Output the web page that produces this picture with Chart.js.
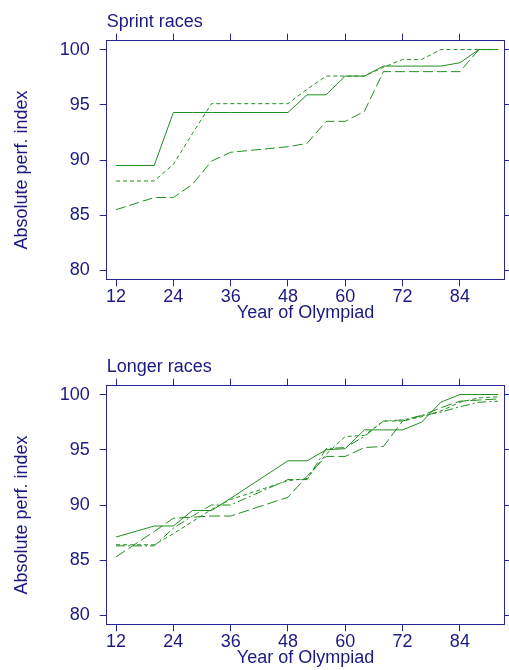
<!DOCTYPE html>
<html>
<head>
<meta charset="utf-8">
<script src="https://cdn.jsdelivr.net/npm/chart.js@4/dist/chart.umd.min.js"></script>
<style>
  html, body { margin: 0; padding: 0; background: #fff; overflow: hidden; }
  canvas { position: absolute; left: 0; }
</style>
</head>
<body>
<canvas id="sprint" width="509" height="345" style="top:0"></canvas>
<canvas id="longer" width="509" height="345" style="top:345px"></canvas>
<script>
// years of the Olympiad (19xx), no games in 16, 40, 44
const years = [12, 20, 24, 28, 32, 36, 48, 52, 56, 60, 64, 68, 72, 76, 80, 84, 88, 92];

// sprint races
const sprintSolid = [89.5, 89.5, 94.3, 94.3, 94.3, 94.3, 94.3, 95.9, 95.9, 97.6, 97.6, 98.5, 98.5, 98.5, 98.5, 98.8, 100, 100];
const sprintShort = [88.1, 88.1, 89.6, 92.4, 95.1, 95.1, 95.1, 96.4, 97.6, 97.6, 97.6, 98.4, 99.1, 99.1, 100, 100, 100, 100];
const sprintLong  = [85.5, 86.6, 86.6, 87.8, 89.9, 90.7, 91.2, 91.5, 93.5, 93.5, 94.4, 98.0, 98.0, 98.0, 98.0, 98.0, 100, 100];

// longer races
const longerSolid   = [87.1, 88.1, 88.1, 89.5, 89.5, 90.6, 94.0, 94.0, 95.0, 95.1, 96.8, 96.8, 96.8, 97.5, 99.3, 100, 100, 100];
const longerShort   = [86.4, 86.4, 87.4, 88.5, 89.6, 90.5, 92.2, 92.4, 94.6, 96.2, 96.3, 97.6, 97.6, 98.0, 98.5, 99.3, 99.7, 99.8];
const longerDashDot = [86.3, 86.3, 87.9, 89.0, 90.0, 90.0, 92.3, 92.3, 95.1, 95.2, 96.2, 97.6, 97.7, 98.1, 98.4, 98.9, 99.3, 99.4];
const longerLong    = [85.3, 87.6, 88.8, 88.9, 89.0, 89.0, 90.7, 92.6, 94.4, 94.4, 95.2, 95.3, 97.6, 98.1, 98.8, 99.4, 99.5, 99.6];

const xTicks = [12, 24, 36, 48, 60, 72, 84];
const yTicks = [80, 85, 90, 95, 100];

const navy = "#1a1a80";
const frame = "#25259a";
const green = "#1f8f1f";
const font = { family: "'Liberation Sans', Arial, sans-serif", size: 18 };

function serie(values, dash) {
	return {
		data: years.map((y, i) => ({ x: y, y: values[i] })),
		borderColor: green,
		borderWidth: 1,
		borderDash: dash,
		pointRadius: 0,
		tension: 0,
		fill: false
	};
}

function axis(pos, extra) {
	const horiz = pos === "top" || pos === "bottom";
	const tickVals = horiz ? xTicks : yTicks;
	return Object.assign({
		type: "linear",
		position: pos,
		min: horiz ? 10.05 : 79.2,
		max: horiz ? 93.3 : 100.8,
		afterBuildTicks: s => { s.ticks = tickVals.map(v => ({ value: v })); },
		grid: { drawOnChartArea: false, color: frame, tickLength: 7, tickWidth: 1 },
		border: { display: true, color: frame, width: 1 },
		ticks: { display: false }
	}, extra);
}

function makeChart(id, titulo, datasets) {
	const ctx = document.getElementById(id).getContext("2d");
	return new Chart(ctx, {
		type: "line",
		data: { datasets: datasets },
		options: {
			responsive: false,
			animation: false,
			layout: { padding: 0 },
			plugins: { legend: { display: false }, tooltip: { enabled: false } },
			scales: {
				x: axis("bottom", {
					afterFit: s => { s.height = 65.7; },
					ticks: { display: true, color: navy, font: font, padding: 0, maxRotation: 0, autoSkip: false },
					title: { display: true, text: "Year of Olympiad", color: navy, font: font, padding: { top: 0, bottom: 21 } }
				}),
				x2: axis("top", {
					afterFit: s => { s.height = 40.7; },
					title: { display: true, text: titulo, align: "start", color: navy, font: font, padding: { top: 11, bottom: 0 } }
				}),
				y: axis("left", {
					afterFit: s => { s.width = 106.7; },
					ticks: { display: true, color: navy, font: font, padding: 10 },
					// trailing spaces push the title a bit lower, as in the original
					title: { display: true, text: "Absolute perf. index    ", color: navy, font: font, padding: { top: 11, bottom: 0 } }
				}),
				y2: axis("right", {
					afterFit: s => { s.width = 4.7; },
					grid: { drawOnChartArea: false, color: frame, tickLength: 5, tickWidth: 1 }
				})
			}
		}
	});
}

makeChart("sprint", "Sprint races", [
	serie(sprintSolid, []),
	serie(sprintShort, [4, 3]),
	serie(sprintLong, [10, 4])
]);

makeChart("longer", "Longer races", [
	serie(longerSolid, []),
	serie(longerShort, [4, 3]),
	serie(longerDashDot, [9, 3, 2, 3]),
	serie(longerLong, [11, 4])
]);
</script>
</body>
</html>
